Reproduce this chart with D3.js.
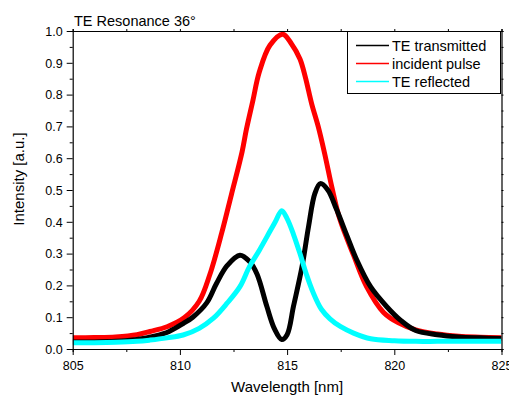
<!DOCTYPE html>
<html>
<head>
<meta charset="utf-8">
<script src="https://d3js.org/d3.v7.min.js"></script>
<style>
  body { margin: 0; background: #fff; }
  text { font-family: "Liberation Sans", Arial, sans-serif; fill: #000; }
</style>
</head>
<body>
<svg id="chart" width="509" height="395"></svg>
<script>
// values: [wavelength nm, intensity a.u.]
const incidentPulse = [
  [805, 0.035], [806, 0.036], [807, 0.038], [808, 0.045], [808.6, 0.055], [809.4, 0.07],
  [810.2, 0.098], [810.9, 0.15], [811.4, 0.235], [811.95, 0.365], [812.4, 0.485], [812.9, 0.62],
  [813.1, 0.69], [813.4, 0.78], [813.7, 0.87], [814.2, 0.955], [814.8, 0.99], [815.2, 0.96],
  [815.6, 0.912], [815.85, 0.855], [816.15, 0.77], [816.45, 0.70], [816.75, 0.615], [817.1, 0.505],
  [817.45, 0.41], [818.1, 0.295], [818.7, 0.197], [819.5, 0.115], [820.2, 0.082], [821, 0.06],
  [822, 0.047], [823, 0.04], [824, 0.037], [825, 0.035]
];
const teTransmitted = [
  [805, 0.022], [806, 0.022], [807, 0.024], [808, 0.03], [808.8, 0.04], [809.5, 0.055],
  [810.15, 0.08], [810.6, 0.10], [811.25, 0.145], [811.7, 0.205], [812.2, 0.262], [812.8, 0.295],
  [813.25, 0.275], [813.6, 0.235], [814.05, 0.135], [814.4, 0.065], [814.75, 0.03], [815.0, 0.045],
  [815.3, 0.135], [815.7, 0.26], [816.0, 0.385], [816.3, 0.49], [816.55, 0.52], [816.9, 0.5],
  [817.3, 0.44], [817.8, 0.355], [818.25, 0.28], [818.9, 0.195], [819.65, 0.133], [820.3, 0.09],
  [821, 0.058], [822, 0.045], [823, 0.038], [824, 0.035], [825, 0.033]
];
const teReflected = [
  [805, 0.02], [806, 0.02], [807, 0.021], [808, 0.024], [808.6, 0.028], [809.4, 0.035],
  [810.15, 0.044], [810.9, 0.065], [811.55, 0.096], [812.2, 0.144], [812.8, 0.196], [813.25, 0.26],
  [813.7, 0.31], [814.2, 0.37], [814.45, 0.40], [814.75, 0.435], [815.0, 0.41], [815.3, 0.36],
  [815.6, 0.30], [815.9, 0.235], [816.2, 0.18], [816.6, 0.125], [817.0, 0.095], [817.5, 0.07],
  [818.1, 0.05], [818.9, 0.032], [820, 0.026], [821, 0.024], [822, 0.024], [823, 0.024], [825, 0.024]
];
const seriesNames = ["TE transmitted", "incident pulse", "TE reflected"];
const seriesColors = ["#000000", "#ff0000", "#00ffff"];
const xTicks = [805, 810, 815, 820, 825];
const yTicks = [0, 0.1, 0.2, 0.3, 0.4, 0.5, 0.6, 0.7, 0.8, 0.9, 1.0];

const svg = d3.select("#chart");
const plotLeft = 72.7, plotRight = 501.5, plotTop = 31, plotBottom = 349;

const x = d3.scaleLinear().domain([805, 825]).range([plotLeft, plotRight]);
const y = d3.scaleLinear().domain([0, 1]).range([plotBottom, plotTop]);

svg.append("defs").append("clipPath").attr("id", "plotClip")
  .append("rect").attr("x", plotLeft).attr("y", plotTop - 3)
  .attr("width", plotRight - plotLeft).attr("height", plotBottom - plotTop + 3);

const line = d3.line()
  .x(d => x(d[0]))
  .y(d => y(d[1]))
  .curve(d3.curveCatmullRom.alpha(0.5));

// drawing order: red below, black, cyan on top
const plot = svg.append("g").attr("clip-path", "url(#plotClip)");
[[incidentPulse, seriesColors[1]], [teTransmitted, seriesColors[0]], [teReflected, seriesColors[2]]]
  .forEach(([data, color]) => {
    plot.append("path")
      .datum(data)
      .attr("fill", "none")
      .attr("stroke", color)
      .attr("stroke-width", 5)
      .attr("stroke-linejoin", "round")
      .attr("d", line);
  });

// axes
const minorX = d3.range(805, 825.01, 2.5);
const minorY = d3.range(0, 1.001, 0.05);

const bottomAxis = svg.append("g").attr("transform", `translate(0,${plotBottom})`);
bottomAxis.call(d3.axisBottom(x).tickValues(minorX).tickSize(3).tickFormat(""));
bottomAxis.selectAll(".tick").filter(d => xTicks.includes(d))
  .each(function (d) {
    const t = d3.select(this);
    t.select("line").attr("y2", 6);
    t.append("text").attr("y", 21).attr("text-anchor", "middle")
      .style("font-size", "12.5px").text(d);
  });

const leftAxis = svg.append("g").attr("transform", `translate(${plotLeft},0)`);
leftAxis.call(d3.axisLeft(y).tickValues(minorY).tickSize(3).tickFormat(""));
leftAxis.selectAll(".tick").filter(d => yTicks.some(t => Math.abs(t - d) < 1e-6))
  .each(function (d) {
    const t = d3.select(this);
    t.select("line").attr("x2", -6);
    t.append("text").attr("x", -10).attr("dy", "0.35em").attr("text-anchor", "end")
      .style("font-size", "12.5px").text(d3.format(".1f")(d));
  });

const topAxis = svg.append("g").attr("transform", `translate(0,${plotTop})`);
topAxis.call(d3.axisTop(x).tickValues(minorX).tickSize(2).tickFormat(""));
const rightAxis = svg.append("g").attr("transform", `translate(${plotRight},0)`);
rightAxis.call(d3.axisRight(y).tickValues(minorY).tickSize(2).tickFormat(""));

svg.selectAll(".domain").attr("stroke", "#000").attr("stroke-width", 1.2);
svg.selectAll(".tick line").attr("stroke", "#000").attr("stroke-width", 1);
svg.selectAll(".tick text").attr("fill", "#000");

// titles
svg.append("text").attr("x", 74).attr("y", 26).style("font-size", "14.5px").text("TE Resonance 36°");
svg.append("text").attr("x", (plotLeft + plotRight) / 2).attr("y", 392).attr("text-anchor", "middle")
  .style("font-size", "15px").text("Wavelength [nm]");
svg.append("text").attr("transform", "translate(24,179) rotate(-90)").attr("text-anchor", "middle")
  .style("font-size", "15px").text("Intensity [a.u.]");

// legend
const legend = svg.append("g");
legend.append("rect").attr("x", 347.5).attr("y", plotTop + 0.5).attr("width", 153).attr("height", 62)
  .attr("fill", "#fff").attr("stroke", "#000").attr("stroke-width", 1);
seriesNames.forEach((name, i) => {
  const ly = 45.5 + i * 18;
  legend.append("line").attr("x1", 356).attr("x2", 389).attr("y1", ly).attr("y2", ly)
    .attr("stroke", seriesColors[i]).attr("stroke-width", 1.5);
  legend.append("text").attr("x", 392).attr("y", ly + 5).style("font-size", "14.5px").text(name);
});
</script>
</body>
</html>
